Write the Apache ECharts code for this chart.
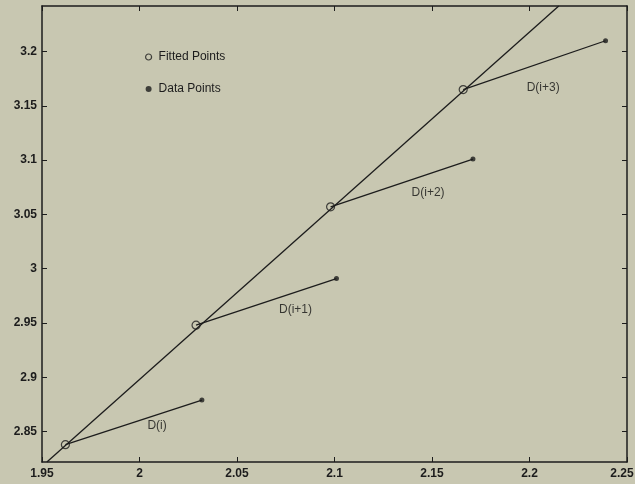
<!DOCTYPE html>
<html>
<head>
<meta charset="utf-8">
<script src="https://cdn.jsdelivr.net/npm/echarts@6/dist/echarts.min.js"></script>
<style>
  html, body { margin: 0; padding: 0; background: #c8c7b1; overflow: hidden; }
  #chart { width: 635px; height: 484px; }
</style>
</head>
<body>
<div id="chart"></div>
<script>
// ---- data ----
const fittedX = [1.962, 2.029, 2.098, 2.166];
const fittedY = [2.838, 2.948, 3.057, 3.165];
const dataX = [2.032, 2.101, 2.171, 2.239];
const dataY = [2.879, 2.991, 3.101, 3.210];
const fitLineX = [1.9525, 2.2150];
const fitLineY = [2.822, 3.242];
const segLabels = ['D(i)', 'D(i+1)', 'D(i+2)', 'D(i+3)'];
const segLabelX = [2.009, 2.080, 2.148, 2.207];
const segLabelY = [2.855, 2.962, 3.070, 3.167];
const xTicks = [1.95, 2, 2.05, 2.1, 2.15, 2.2, 2.25];
const yTicks = [2.85, 2.9, 2.95, 3, 3.05, 3.1, 3.15, 3.2];

const INK = '#1c1c1c';
const FONT = '"Liberation Sans", Arial, Helvetica, sans-serif';

const chart = echarts.init(document.getElementById('chart'), null, { renderer: 'canvas' });

const series = [];
series.push({
  type: 'line', name: 'fit', data: fitLineX.map((x, i) => [x, fitLineY[i]]),
  showSymbol: false, symbol: 'none', silent: true, clip: true,
  lineStyle: { color: INK, width: 1.3 }, z: 2
});
for (let i = 0; i < fittedX.length; i++) {
  series.push({
    type: 'line', name: 'seg' + i,
    data: [[fittedX[i], fittedY[i]], [dataX[i], dataY[i]]],
    showSymbol: false, symbol: 'none', silent: true,
    lineStyle: { color: INK, width: 1.3 }, z: 2
  });
}
series.push({
  type: 'scatter', name: 'Fitted Points',
  data: fittedX.map((x, i) => [x, fittedY[i]]),
  symbol: 'circle', symbolSize: 8,
  itemStyle: { color: 'rgba(0,0,0,0)', borderColor: INK, borderWidth: 1.2 }, z: 3
});
series.push({
  type: 'scatter', name: 'Data Points',
  data: dataX.map((x, i) => [x, dataY[i]]),
  symbol: 'circle', symbolSize: 5,
  itemStyle: { color: INK }, z: 3
});
series.push({
  type: 'scatter', name: 'labels',
  data: segLabels.map((t, i) => ({ name: t, value: [segLabelX[i], segLabelY[i]] })),
  symbolSize: 0, silent: true,
  label: {
    show: true, position: 'inside', formatter: '{b}',
    color: '#111', fontSize: 12, fontFamily: FONT
  }, z: 4
});

const axisLine = { show: true, lineStyle: { color: INK, width: 1.5 } };
const tickStyle = { show: true, inside: true, length: 5, lineStyle: { color: INK, width: 1 } };
const lastX = xTicks[xTicks.length - 1];

chart.setOption({
  animation: false,
  backgroundColor: '#c8c7b1',
  grid: { left: 42, right: 8, top: 6, bottom: 22, containLabel: false, outerBoundsMode: 'none' },
  legend: {
    orient: 'vertical', left: 140, top: 45,
    itemWidth: 6, itemHeight: 6, itemGap: 18,
    textStyle: { color: INK, fontSize: 12, fontFamily: FONT, lineHeight: 14, padding: [0, 0, 0, 2] },
    selectedMode: false,
    data: [
      { name: 'Fitted Points', icon: 'circle', itemStyle: { color: 'rgba(0,0,0,0)', borderColor: INK, borderWidth: 1.2 } },
      { name: 'Data Points', icon: 'circle', itemStyle: { color: INK, borderWidth: 0 } }
    ]
  },
  xAxis: [
    {
      type: 'value', position: 'bottom', min: 1.95, max: 2.25, interval: 0.05,
      axisLine: axisLine, axisTick: tickStyle, splitLine: { show: false },
      axisLabel: {
        show: true, margin: 6, color: INK, fontSize: 12, fontWeight: 'bold', fontFamily: FONT,
        showMinLabel: true, showMaxLabel: true,
        customValues: xTicks,
        formatter: v => Math.abs(v - lastX) < 1e-9 ? '{m|' + v + '}' : String(v),
        rich: { m: { color: INK, fontSize: 12, fontWeight: 'bold', fontFamily: FONT, padding: [0, 10, 0, 0] } }
      }
    },
    {
      type: 'value', position: 'top', min: 1.95, max: 2.25, interval: 0.05,
      axisLine: axisLine, axisTick: tickStyle, splitLine: { show: false },
      axisLabel: { show: false }
    }
  ],
  yAxis: [
    {
      type: 'value', position: 'left', min: 2.822, max: 3.242,
      axisLine: axisLine,
      axisTick: Object.assign({}, tickStyle, { customValues: yTicks }),
      splitLine: { show: false },
      axisLabel: {
        show: true, margin: 5, color: INK, fontSize: 12, fontWeight: 'bold', fontFamily: FONT,
        customValues: yTicks
      }
    },
    {
      type: 'value', position: 'right', min: 2.822, max: 3.242,
      axisLine: axisLine,
      axisTick: Object.assign({}, tickStyle, { customValues: yTicks }),
      splitLine: { show: false },
      axisLabel: { show: false, customValues: yTicks }
    }
  ],
  series: series
});
</script>
</body>
</html>
